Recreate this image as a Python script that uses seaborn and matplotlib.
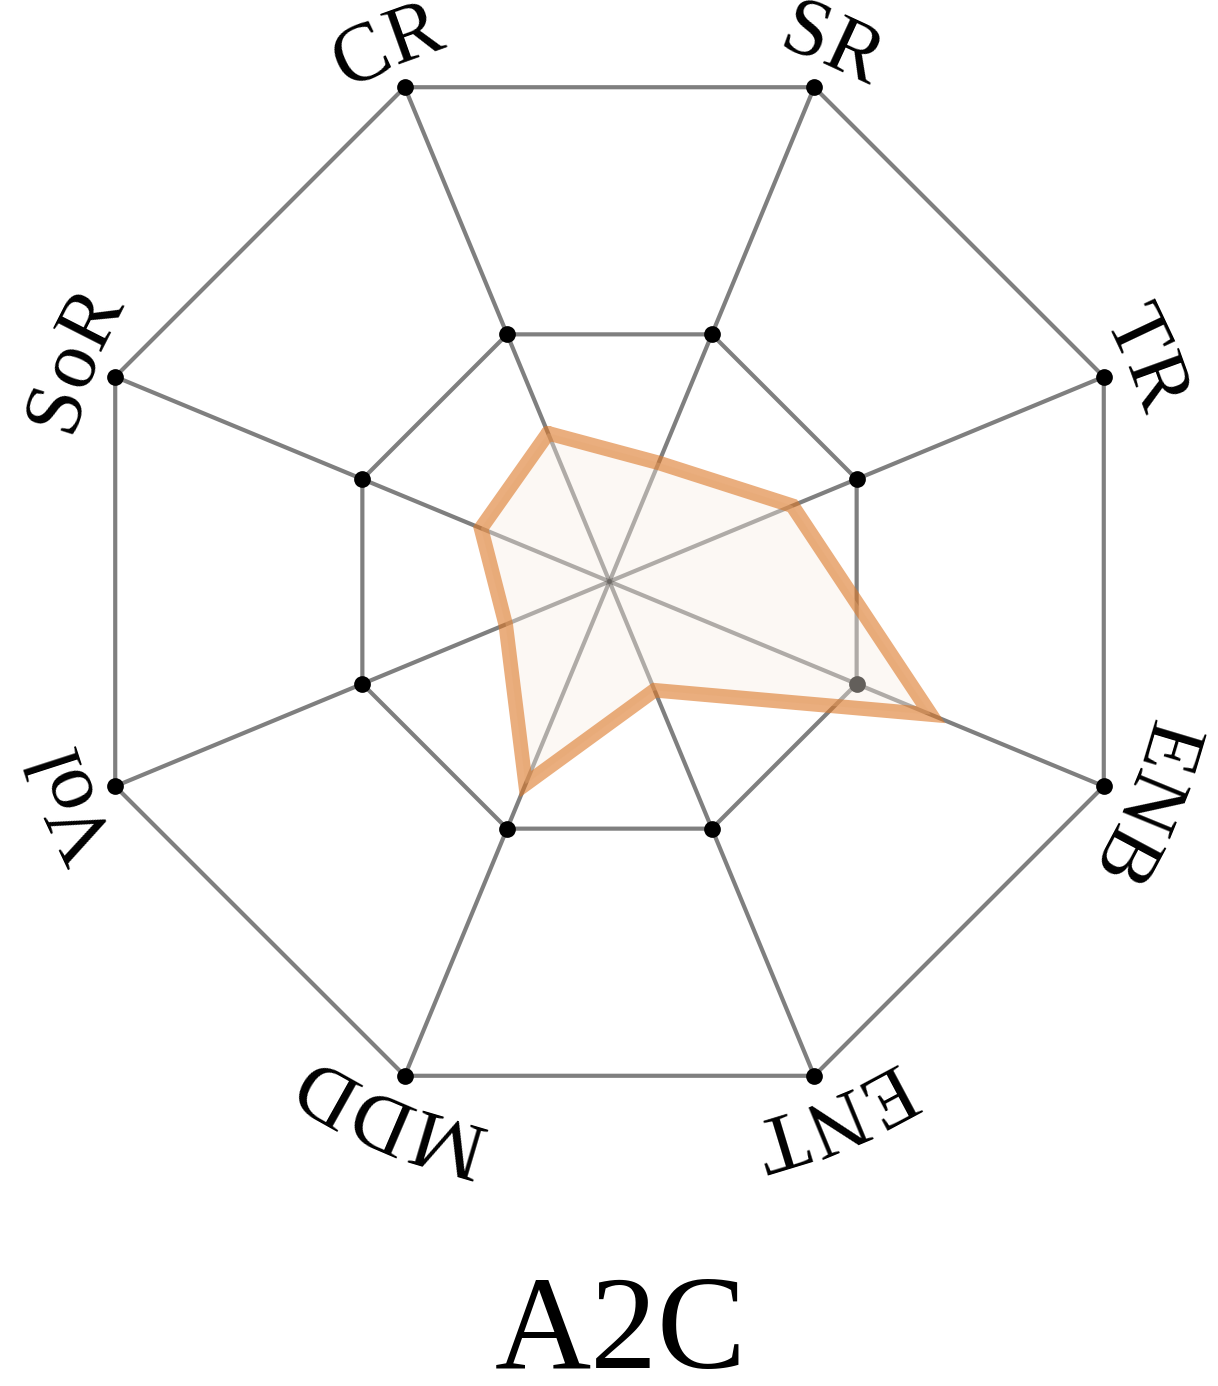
import numpy as np
import matplotlib
matplotlib.use('Agg')
import matplotlib.pyplot as plt
import seaborn as sns
import pandas as pd
from matplotlib.font_manager import FontProperties

# ---------------- data ----------------
categories = ['CR', 'SR', 'TR', 'ENB', 'ENT', 'MDD', 'Vol', 'SoR']
values = [0.30, 0.24, 0.37, 0.65, 0.22, 0.41, 0.21, 0.26]
ring_levels = [0.5, 1.0]
title = 'A2C'

# ---------------- style ----------------
sns.set_theme(style='white')
plt.rcParams['font.family'] = ['Liberation Serif', 'DejaVu Serif']

W, H = 1218, 1386
fig = plt.figure(figsize=(W / 100, H / 100), dpi=100)

R_PX = 535.0          # pixel radius of level 1.0
cx, cy = 609.5, H - 581.5
rmax = 1.1
half = R_PX * rmax
ax = fig.add_axes([(cx - half) / W, (cy - half) / H, 2 * half / W, 2 * half / H],
                  projection='polar')

n = len(categories)
theta = np.arange(n) * 2 * np.pi / n
OFFSET_DEG = 112.5
ax.set_theta_offset(np.radians(OFFSET_DEG))
ax.set_theta_direction(-1)
ax.set_ylim(0, rmax)
ax.axis('off')

grid_kw = dict(color='black', alpha=0.5, lw=3.0, solid_capstyle='butt', clip_on=False)

# spokes
for t in theta:
    ax.plot([t, t], [0, ring_levels[-1]], zorder=1, **grid_kw)

# rings (straight-sided octagons)
theta_closed = np.append(theta, theta[0])
for lev in ring_levels:
    ax.plot(theta_closed, [lev] * (n + 1), zorder=1, **grid_kw)

# vertex dots
dots = pd.DataFrame({'theta': np.tile(theta, len(ring_levels)),
                     'r': np.repeat(ring_levels, n)})
sns.scatterplot(data=dots, x='theta', y='r', ax=ax, color='black', s=145,
                linewidth=0, zorder=3, clip_on=False, legend=False)

# data polygon
vals_closed = np.append(values, values[0])
ax.fill(theta_closed, vals_closed, facecolor=(248 / 255, 238 / 255, 228 / 255),
        alpha=0.4, lw=0, zorder=4)
poly = pd.DataFrame({'theta': theta_closed, 'r': vals_closed})
sns.lineplot(data=poly, x='theta', y='r', ax=ax, sort=False, estimator=None,
             color='#DC7828', alpha=0.6, lw=10.5, zorder=5)
ax.lines[-1].set_solid_joinstyle('miter')
ax.set_xlabel('')
ax.set_ylabel('')
ax.set_ylim(0, rmax)
ax.axis('off')

# curved category labels
fig.canvas.draw()
renderer = fig.canvas.get_renderer()
fp = FontProperties(family=['Liberation Serif'], size=59)
r_base = 559.0 / R_PX
Rb = r_base * R_PX


def text_w(s):
    if not s:
        return 0.0
    return renderer.get_text_width_height_descent(s, fp, ismath=False)[0]


for t, lab in zip(theta, categories):
    widths = [text_w(lab[:k]) for k in range(len(lab) + 1)]
    total = widths[-1]
    for k, ch in enumerate(lab):
        mid = (widths[k] + widths[k + 1]) / 2 - total / 2
        t_c = t + mid / Rb
        ang = OFFSET_DEG - np.degrees(t_c)
        ax.text(t_c, r_base, ch, rotation=ang - 90, rotation_mode='anchor',
                ha='center', va='baseline', fontproperties=fp, clip_on=False,
                color='black')

fig.text(621 / W, 1 - 1368 / H, title, ha='center', va='baseline',
         fontsize=96, family=['Liberation Serif', 'DejaVu Serif'], color='black')

fig.savefig('out.png', dpi=100, facecolor='white')
